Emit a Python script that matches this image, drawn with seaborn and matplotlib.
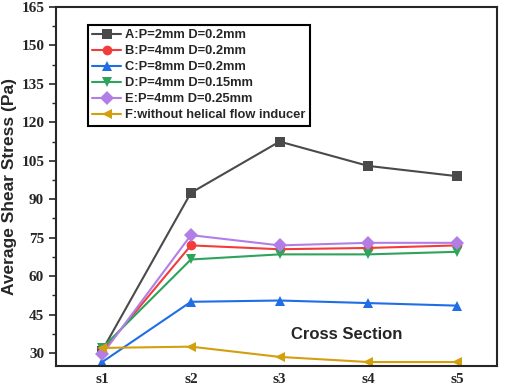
import numpy as np
import pandas as pd
import matplotlib.pyplot as plt
import seaborn as sns

sections = ["s1", "s2", "s3", "s4", "s5"]
labels = ["A:P=2mm D=0.2mm", "B:P=4mm D=0.2mm", "C:P=8mm D=0.2mm",
          "D:P=4mm D=0.15mm", "E:P=4mm D=0.25mm", "F:without helical flow inducer"]
a_vals = [31.0, 92.5, 112.5, 103.0, 99.0]
b_vals = [30.5, 72.0, 70.5, 71.0, 72.0]
c_vals = [26.5, 50.0, 50.5, 49.5, 48.5]
d_vals = [32.0, 66.5, 68.5, 68.5, 69.5]
e_vals = [29.5, 76.0, 72.0, 73.0, 73.0]
f_vals = [32.0, 32.5, 28.5, 26.5, 26.5]

colors = ["#4a4a4a", "#f23c3c", "#1f6ee6", "#2ea35c", "#b27ee6", "#d49f0c"]
markers = ["s", "o", "^", "v", "D", "<"]

rows = []
for lab, vals in zip(labels, [a_vals, b_vals, c_vals, d_vals, e_vals, f_vals]):
    for i, v in enumerate(vals):
        rows.append({"series": lab, "x": i + 1, "y": v})
df = pd.DataFrame(rows)

sns.set_style("ticks")
fig, ax = plt.subplots(figsize=(5.05, 3.88), dpi=100)
sns.lineplot(data=df, x="x", y="y", hue="series", style="series",
             palette=dict(zip(labels, colors)), markers=dict(zip(labels, markers)),
             dashes=False, markersize=7, markeredgewidth=0, linewidth=1.5, ax=ax)

ax.set_xlim(0.48, 5.45)
ax.set_ylim(25, 165)
ax.set_xticks(range(1, 6))
ax.set_xticklabels(sections)
ax.set_yticks(np.arange(30, 166, 15))
ax.set_yticks(np.arange(37.5, 165, 15), minor=True)
for lbl in ax.get_xticklabels() + ax.get_yticklabels():
    lbl.set_family("Liberation Serif")
    lbl.set_fontweight("bold")
    lbl.set_fontsize(11)
ax.tick_params(axis="y", which="major", length=5, width=1.2)
ax.tick_params(axis="y", which="minor", length=3, width=1)
ax.tick_params(axis="x", length=0, pad=5)
for s in ax.spines.values():
    s.set_linewidth(1.5)
    s.set_visible(True)

ax.set_xlabel("")
ax.set_ylabel("Average Shear Stress (Pa)", fontsize=12.5, fontweight="bold",
              family="Liberation Sans", labelpad=3)
ax.text(0.66, 0.075, "Cross Section", transform=ax.transAxes, fontsize=12,
        fontweight="bold", family="Liberation Sans", ha="center")

leg = ax.legend(loc="upper left", bbox_to_anchor=(0.072, 0.95), fancybox=False,
                framealpha=1, edgecolor="black", fontsize=9.3, handlelength=2.2,
                borderpad=0.35, labelspacing=0.3, handletextpad=0.3,
                borderaxespad=0)
leg.get_frame().set_linewidth(1.5)
for t in leg.get_texts():
    t.set_fontweight("bold")
    t.set_family("Liberation Sans")

fig.subplots_adjust(left=0.111, right=0.984, top=0.982, bottom=0.057)
fig.savefig("out.png", dpi=100)
